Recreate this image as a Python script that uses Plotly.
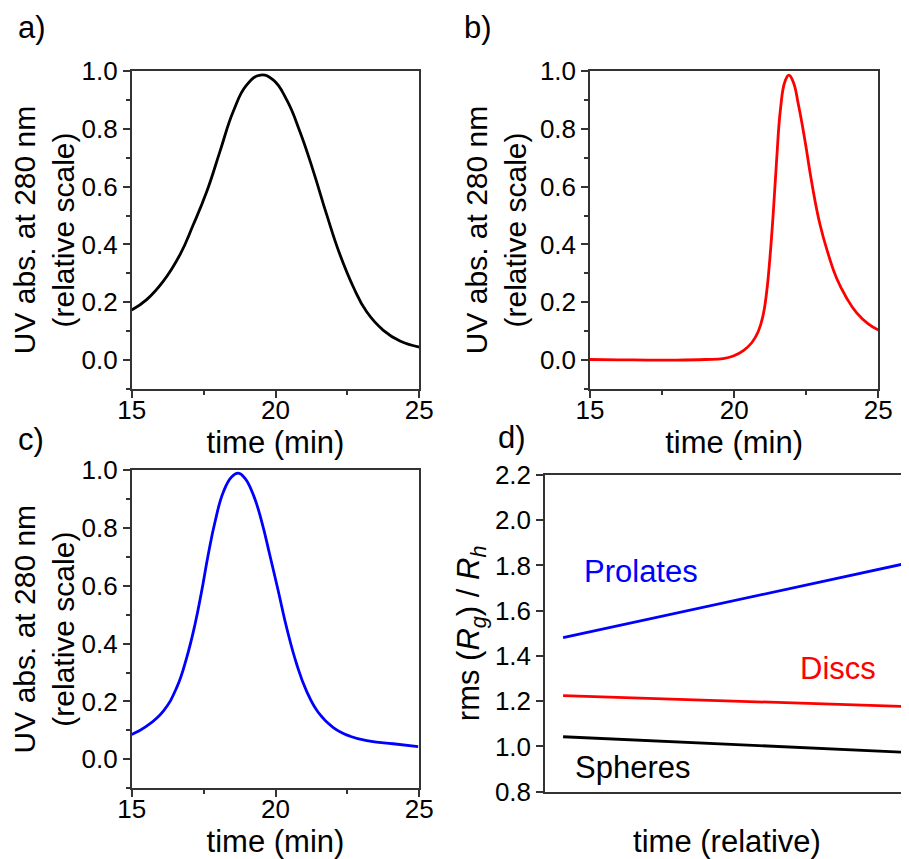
import plotly.graph_objects as go

# panel a) black
time_a = [15.0, 15.52, 16.1, 16.68, 17.14, 17.61, 18.07, 18.53, 19.0, 19.48, 19.92,
          20.39, 20.85, 21.32, 21.78, 22.24, 22.71, 23.17, 23.75, 24.33, 25.0]
uv_a = [0.173, 0.209, 0.273, 0.365, 0.468, 0.583, 0.722, 0.86, 0.952, 0.986, 0.969,
        0.90, 0.79, 0.652, 0.503, 0.365, 0.252, 0.167, 0.103, 0.066, 0.045]

# panel b) red
time_b = [15.0, 16.0, 17.0, 18.0, 19.0, 19.62, 19.97, 20.32, 20.61, 20.84, 21.01, 21.13,
          21.24, 21.36, 21.47, 21.61, 21.76, 21.9, 22.05, 22.23, 22.46, 22.69, 22.98,
          23.27, 23.55, 23.9, 24.25, 24.65, 25.0]
uv_b = [0.002, 0.001, 0.0, 0.0, 0.002, 0.005, 0.014, 0.033, 0.06, 0.10, 0.158, 0.238,
        0.353, 0.514, 0.687, 0.871, 0.963, 0.986, 0.962, 0.883, 0.757, 0.615, 0.468,
        0.365, 0.284, 0.215, 0.163, 0.125, 0.104]

# panel c) blue
time_c = [15.0, 15.52, 16.1, 16.56, 16.91, 17.2, 17.43, 17.66, 17.9, 18.19, 18.48, 18.71,
          18.94, 19.23, 19.52, 19.8, 20.1, 20.39, 20.74, 21.08, 21.49, 22.01, 22.59,
          23.28, 24.09, 24.96]
uv_c = [0.086, 0.115, 0.167, 0.247, 0.351, 0.466, 0.58, 0.707, 0.822, 0.925, 0.977, 0.989,
        0.971, 0.914, 0.822, 0.707, 0.58, 0.454, 0.328, 0.236, 0.162, 0.11, 0.08,
        0.063, 0.054, 0.044]

# panel d) shape ratios
time_rel = [0.05, 1.0]
prolates = [1.481, 1.81]
discs = [1.225, 1.176]
spheres = [1.043, 0.974]

FONT = "Liberation Sans, Arial, sans-serif"
AXC = "#333333"
TSIZE = 31
W, H = 901, 851   # page body adds an 8px margin


def px_x(v):
    return (v - 8) / W


def px_y(v):
    return 1 - (v - 8) / H


fig = go.Figure()
fig.add_trace(go.Scatter(x=time_a, y=uv_a, mode="lines",
                         line=dict(color="black", width=2.8, shape="spline", smoothing=1.3),
                         xaxis="x", yaxis="y"))
fig.add_trace(go.Scatter(x=time_b, y=uv_b, mode="lines",
                         line=dict(color="#ff0000", width=2.8, shape="spline", smoothing=1.3),
                         xaxis="x2", yaxis="y2"))
fig.add_trace(go.Scatter(x=time_c, y=uv_c, mode="lines",
                         line=dict(color="#0000ff", width=2.8, shape="spline", smoothing=1.3),
                         xaxis="x3", yaxis="y3"))
for vals, col in [(prolates, "#0000ff"), (discs, "#ff0000"), (spheres, "black")]:
    fig.add_trace(go.Scatter(x=time_rel, y=vals, mode="lines", line=dict(color=col, width=2.8),
                             xaxis="x4", yaxis="y4"))


def time_axis(dom, anchor):
    return dict(domain=dom, anchor=anchor, range=[15, 25], tickvals=[15, 20, 25],
                ticks="outside", ticklen=7, tickwidth=1.5, tickcolor=AXC, ticklabelstandoff=-10,
                minor=dict(dtick=2.5, ticks="outside", ticklen=4, tickcolor=AXC),
                showline=True, linecolor=AXC, linewidth=1.5, mirror=True, automargin=False,
                showgrid=False, zeroline=False, tickfont=dict(size=26),
                title=dict(text="time (min)", font=dict(size=TSIZE), standoff=1))


def uv_axis(dom, anchor):
    return dict(domain=dom, anchor=anchor, range=[-0.1, 1.0], tickvals=[0, 0.2, 0.4, 0.6, 0.8, 1.0],
                tickformat=".1f", ticks="outside", ticklen=7, tickwidth=1.5, tickcolor=AXC,
                minor=dict(dtick=0.1, ticks="outside", ticklen=4, tickcolor=AXC),
                showline=True, linecolor=AXC, linewidth=1.5, mirror=True, automargin=False,
                showgrid=False, zeroline=False, tickfont=dict(size=26),
                title=dict(text="UV abs. at 280 nm<br>(relative scale)", font=dict(size=30), standoff=4))


dom_ab = [px_y(389), px_y(71)]
dom_cd = [px_y(788.3), px_y(470)]
dom_left = [px_x(131.7), px_x(419.3)]

fig.update_layout(
    width=W, height=H, margin=dict(l=0, r=0, t=0, b=0, autoexpand=False),
    plot_bgcolor="white", paper_bgcolor="white", showlegend=False,
    font=dict(family=FONT, color="black"),
    xaxis=time_axis(dom_left, "y"),
    yaxis=uv_axis(dom_ab, "x"),
    xaxis2=time_axis([px_x(590), px_x(878.3)], "y2"),
    yaxis2=uv_axis(dom_ab, "x2"),
    xaxis3=time_axis(dom_left, "y3"),
    yaxis3=uv_axis(dom_cd, "x3"),
    xaxis4=dict(domain=[px_x(545), 1.0], anchor="y4", range=[0, 1.006], showticklabels=False, ticks="",
                showline=True, linecolor=AXC, linewidth=1.5, mirror=True, showgrid=False, zeroline=False,
                automargin=False,
                title=dict(text="time (relative)", font=dict(size=TSIZE), standoff=39)),
    yaxis4=dict(domain=[px_y(791.7), px_y(475)], anchor="x4", range=[0.8, 2.2], dtick=0.2, tickformat=".1f",
                ticks="outside", ticklen=7, tickwidth=1.5, tickcolor=AXC,
                showline=True, linecolor=AXC, linewidth=1.5, showgrid=False, zeroline=False,
                tickfont=dict(size=26), automargin=False,
                title=dict(text="rms (<i>R</i><sub><i>g</i></sub>) / <i>R</i><sub><i>h</i></sub>",
                           font=dict(size=TSIZE), standoff=6)),
)

# panel labels
for txt, lx, ly in [("a)", 32, 28), ("b)", 478, 28), ("c)", 31, 439), ("d)", 512, 437)]:
    fig.add_annotation(text=txt, x=px_x(lx), y=px_y(ly), xref="paper", yref="paper",
                       showarrow=False, font=dict(size=TSIZE), xanchor="center", yanchor="middle")

# series labels in panel d
for txt, lx, ly, col in [("Prolates", 0.266, 1.772, "#0000ff"), ("Discs", 0.81, 1.345, "#ff0000"),
                         ("Spheres", 0.242, 0.905, "black")]:
    fig.add_annotation(text=txt, x=lx, y=ly, xref="x4", yref="y4", showarrow=False,
                       font=dict(size=TSIZE, color=col), xanchor="center", yanchor="middle")

fig.write_html("out.html")
